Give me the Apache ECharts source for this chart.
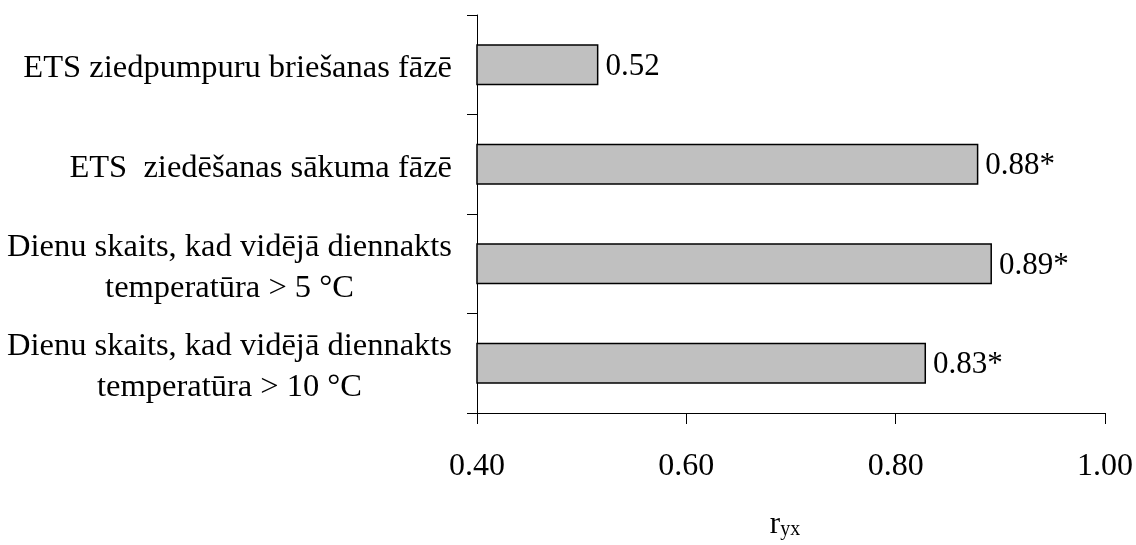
<!DOCTYPE html>
<html>
<head>
<meta charset="utf-8">
<script src="https://cdn.jsdelivr.net/npm/echarts@6/dist/echarts.min.js"></script>
<style>
html,body{margin:0;padding:0;background:#fff;}
#c{width:1136px;height:545px;}
</style>
</head>
<body>
<div id="c"></div>
<script>
var categories = [
  "ETS ziedpumpuru briešanas fāzē",
  "ETS  ziedēšanas sākuma fāzē",
  "Dienu skaits, kad vidējā diennakts\ntemperatūra > 5 °C",
  "Dienu skaits, kad vidējā diennakts\ntemperatūra > 10 °C"
];
var values = [0.516, 0.879, 0.892, 0.829];
var valueLabels = ["0.52", "0.88*", "0.89*", "0.83*"];
var xTicks = {min: 0.4, max: 1.0, interval: 0.2};

var FONT = "'Liberation Serif', 'Times New Roman', serif";
var chart = echarts.init(document.getElementById('c'), null, {renderer: 'canvas'});
chart.setOption({
  animation: false,
  backgroundColor: '#ffffff',
  grid: {left: 477, right: 30, top: 15, bottom: 130, containLabel: false},
  xAxis: {
    type: 'value',
    min: xTicks.min, max: xTicks.max, interval: xTicks.interval,
    name: '{r|r}{s|yx}',
    nameLocation: 'middle',
    nameGap: 95,
    nameTextStyle: {
      padding: [0, 12, 0, 0],
      rich: {
        r: {fontSize: 31, fontFamily: FONT, color: '#000', lineHeight: 32, verticalAlign: 'bottom'},
        s: {fontSize: 20, fontFamily: FONT, color: '#000', lineHeight: 26, verticalAlign: 'bottom'}
      }
    },
    axisLine: {show: true, onZero: false, lineStyle: {color: '#000', width: 1}},
    axisTick: {show: true, length: 11, lineStyle: {color: '#000', width: 1}},
    splitLine: {show: false},
    axisLabel: {
      fontSize: 32, fontFamily: FONT, color: '#000', margin: 38,
      formatter: function (v) { return v.toFixed(2); }
    }
  },
  yAxis: {
    type: 'category',
    data: categories,
    inverse: true,
    axisLine: {show: true, onZero: false, lineStyle: {color: '#000', width: 1}},
    axisTick: {show: true, length: 10, alignWithLabel: false, lineStyle: {color: '#000', width: 1}},
    splitLine: {show: false},
    axisLabel: {
      margin: 25,
      padding: [8, 0, 0, 0],
      formatter: function (v) {
        return v.split('\n').map(function (l) { return '{c|' + l + '}'; }).join('\n');
      },
      rich: {
        c: {fontSize: 32.5, fontFamily: FONT, color: '#000', lineHeight: 41, align: 'center'}
      }
    }
  },
  series: [{
    type: 'bar',
    data: values,
    barWidth: 41,
    itemStyle: {color: '#C0C0C0', borderColor: '#000', borderWidth: 1.5},
    label: {
      show: true,
      position: 'right',
      distance: 7,
      offset: [0, 2],
      fontSize: 31,
      fontFamily: FONT,
      color: '#000',
      formatter: function (p) { return valueLabels[p.dataIndex]; }
    }
  }]
});
</script>
</body>
</html>
